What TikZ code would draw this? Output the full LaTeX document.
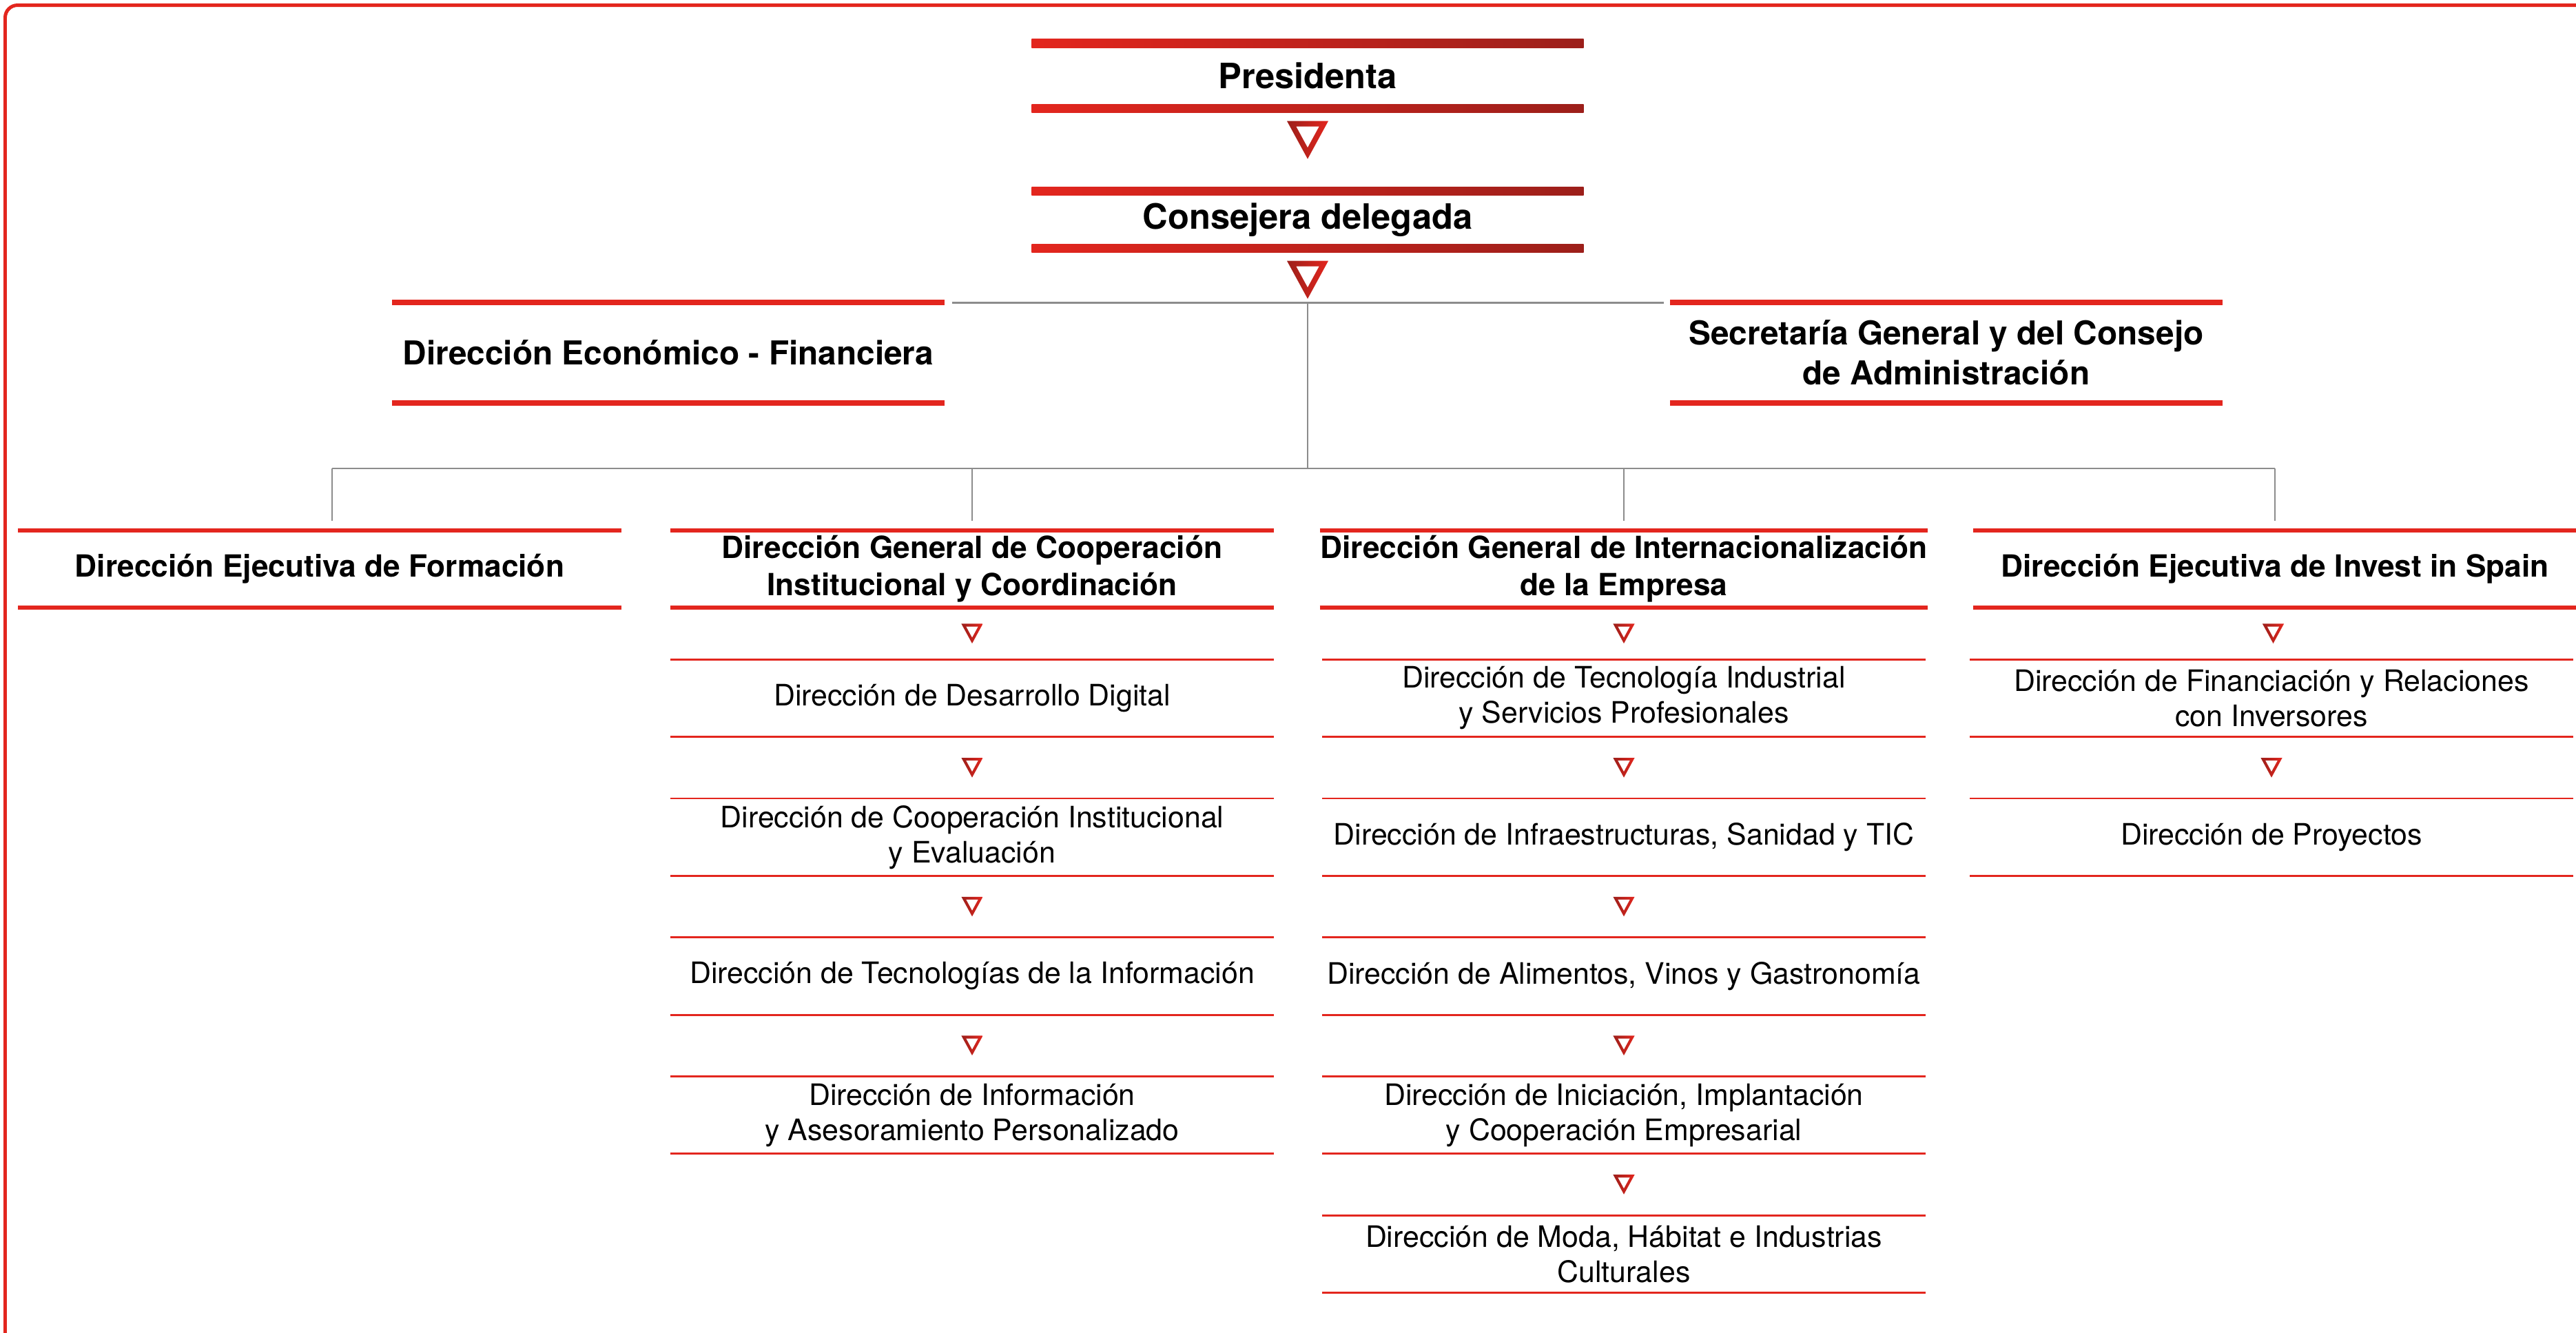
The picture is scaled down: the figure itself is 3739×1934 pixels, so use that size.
\documentclass[tikz,border=0pt]{standalone}
\usepackage{fontspec}
\setmainfont{TeX Gyre Heros}
\usetikzlibrary{positioning,calc}

\definecolor{icexred}{HTML}{E3261E}
\definecolor{icexdark}{HTML}{9C1F1A}
\definecolor{linkgray}{HTML}{8C8C8C}

% hollow down triangle: #1 centre, #2 scale
\newcommand{\flowtri}[2]{%
  \begin{scope}[shift={#1}, scale=#2]
    \shade[left color=icexdark, right color=icexred] (-30,-27.5) -- (30,-27.5) -- (0,27.5) -- cycle;
    \fill[white] (-16.5,-19.5) -- (16.5,-19.5) -- (0,10.8) -- cycle;
  \end{scope}}

\begin{document}
\begin{tikzpicture}[x=0.1mm, y=-0.1mm, node distance=20.17mm, inner sep=0pt]
    \tikzstyle{top} = [minimum width=80mm, align=center, font=\fontsize{14.4}{17}\selectfont\bfseries]
    \tikzstyle{staff} = [minimum width=80mm, minimum height=14.4mm, align=center, font=\fontsize{13.6}{16.5}\selectfont\bfseries]
    \tikzstyle{head} = [minimum width=87.4mm, minimum height=11.1mm, align=center, font=\fontsize{12.6}{15.4}\selectfont\bfseries]
    \tikzstyle{unit} = [minimum width=87.4mm, minimum height=11.1mm, align=center, font=\fontsize{12.2}{14.5}\selectfont]
    \tikzstyle{link} = [draw=linkgray, line width=0.25mm]

    \useasboundingbox (0,0) rectangle (3739,1934);
    \clip (0,0) rectangle (3739,1934);

    % Frame (runs off the page right and bottom)
    \draw[icexred, line width=0.5mm, rounded corners=1.8mm] (7.5,7.5) rectangle (3900,2100);

    % Top nodes
    \node[top, minimum height=9.3mm] (pres) at (1898,110) {Presidenta};
    \node[top, minimum height=8.2mm] (cons) at (1898,319) {Consejera delegada};

    % Staff nodes (beside the trunk)
    \node[staff] (econ) at (970,512) {Dirección Económico - Financiera};
    \node[staff] (secr) at (2825,512) {Secretaría General y del Consejo\\de Administración};

    % Head nodes (second row)
    \node[head] (form) at (464,826) {Dirección Ejecutiva de Formación};
    \node[head] (coop) at (1411,826) {Dirección General de Cooperación\\Institucional y Coordinación};
    \node[head] (inter) at (2357,826) {Dirección General de Internacionalización\\de la Empresa};
    \node[head] (invest) at (3302,826) {Dirección Ejecutiva de Invest in Spain};

    % Units under Cooperación
    \node[unit] (c1) at (1411,1013.5) {Dirección de Desarrollo Digital};
    \node[unit] (c2) [below of=c1] {Dirección de Cooperación Institucional\\y Evaluación};
    \node[unit] (c3) [below of=c2] {Dirección de Tecnologías de la Información};
    \node[unit] (c4) [below of=c3] {Dirección de Información\\y Asesoramiento Personalizado};

    % Units under Internacionalización
    \node[unit] (i1) at (2357,1013.5) {Dirección de Tecnología Industrial\\y Servicios Profesionales};
    \node[unit] (i2) [below of=i1] {Dirección de Infraestructuras, Sanidad y TIC};
    \node[unit] (i3) [below of=i2] {Dirección de Alimentos, Vinos y Gastronomía};
    \node[unit] (i4) [below of=i3] {Dirección de Iniciación, Implantación\\y Cooperación Empresarial};
    \node[unit] (i5) [below of=i4] {Dirección de Moda, Hábitat e Industrias\\Culturales};

    % Units under Invest in Spain
    \node[unit] (v1) at (3297,1013.5) {Dirección de Financiación y Relaciones\\con Inversores};
    \node[unit] (v2) [below of=v1] {Dirección de Proyectos};

    % Rules above and below each node
    \foreach \n in {pres,cons} {
        \shade[left color=icexred, right color=icexdark] ([yshift=0.62mm]\n.north west) rectangle ([yshift=-0.62mm]\n.north east);
        \shade[left color=icexred, right color=icexdark] ([yshift=0.62mm]\n.south west) rectangle ([yshift=-0.62mm]\n.south east);
    }
    \foreach \n in {econ,secr}
        \draw[icexred, line width=0.8mm] (\n.north west) -- (\n.north east) (\n.south west) -- (\n.south east);
    \foreach \n in {form,coop,inter,invest}
        \draw[icexred, line width=0.55mm] (\n.north west) -- (\n.north east) (\n.south west) -- (\n.south east);
    \foreach \n in {c1,c2,c3,c4,i1,i2,i3,i4,i5,v1,v2}
        \draw[icexred, line width=0.28mm] (\n.north west) -- (\n.north east) (\n.south west) -- (\n.south east);

    % Triangles
    \flowtri{([yshift=-4.6mm]pres.south)}{1}
    \flowtri{([yshift=-4.55mm]cons.south)}{1}
    \foreach \a/\b in {coop/c1,c1/c2,c2/c3,c3/c4,inter/i1,i1/i2,i2/i3,i3/i4,i4/i5,invest/v1,v1/v2} {
        \flowtri{($(\a.south)!0.5!(\b.north)$)}{0.52}
    }

    % Grey connectors
    \coordinate (hub) at (cons.south |- econ.north);
    \coordinate (bus) at (1898,680);
    \draw[link] ([xshift=1.1mm]econ.north east) -- ([xshift=-0.9mm]secr.north west);
    \draw[link] (hub) -- (bus);
    \draw[link] ([xshift=1.8mm]form.north |- bus) -- (invest.north |- bus);
    \draw[link] ([xshift=1.8mm]form.north |- bus) -- ([xshift=1.8mm, yshift=1.4mm]form.north);
    \foreach \n in {coop,inter,invest}
        \draw[link] (\n.north |- bus) -- ([yshift=1.4mm]\n.north);
\end{tikzpicture}
\end{document}
